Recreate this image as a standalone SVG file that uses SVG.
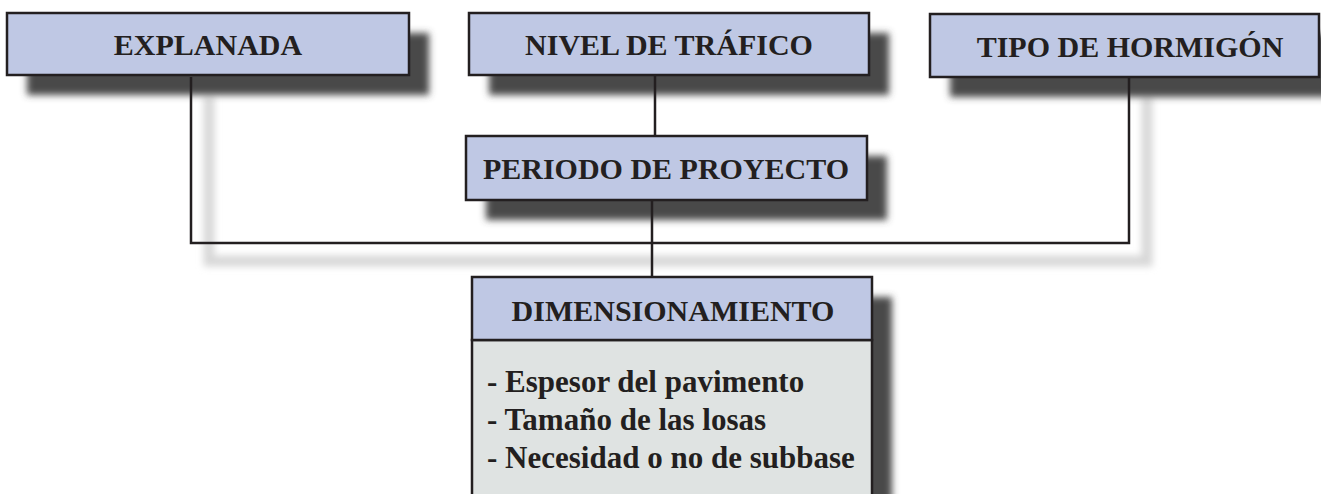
<svg xmlns="http://www.w3.org/2000/svg" width="1321" height="494" viewBox="0 0 1321 494">
<defs>
<filter id="blurDark" x="-20%" y="-50%" width="140%" height="200%"><feGaussianBlur stdDeviation="3.5"/></filter>
<filter id="blurLight" x="-20%" y="-20%" width="140%" height="140%"><feGaussianBlur stdDeviation="3.5"/></filter>
<style>
.box{fill:#bfc8e4;stroke:#231f20;stroke-width:2.5}
.body{fill:#dfe3e2;stroke:#231f20;stroke-width:2.5}
.shadow{fill:#4a4a4a;filter:url(#blurDark)}
.conn{stroke:#231f20;stroke-width:2.5;fill:none}
.cshadow{stroke:#d8d8d8;stroke-width:11;fill:none;filter:url(#blurLight)}
.t{font-family:"Liberation Serif","Times New Roman",serif;font-weight:bold;font-size:30px;fill:#231f20}
.l{font-family:"Liberation Serif","Times New Roman",serif;font-weight:bold;font-size:31px;fill:#231f20}
</style>
</defs>
<rect width="1321" height="494" fill="#ffffff"/>
<g id="connector-shadows">
<path class="cshadow" d="M209 96 V261 H1147 V96"/>
<path class="cshadow" d="M673 93 V154"/>
<path class="cshadow" d="M670 218 V295"/>
</g>
<g id="explanada">
<rect class="shadow" x="27" y="33" width="402" height="62"/>
<rect class="box" x="7" y="13" width="402" height="62"/>
<text class="t" x="208" y="55" text-anchor="middle">EXPLANADA</text>
</g>
<g id="nivel-trafico">
<rect class="shadow" x="489" y="33" width="400" height="62"/>
<rect class="box" x="469" y="13" width="400" height="62"/>
<text class="t" x="669" y="55" text-anchor="middle">NIVEL DE TRÁFICO</text>
</g>
<g id="tipo-hormigon">
<rect class="shadow" x="950" y="34" width="400" height="63"/>
<rect class="box" x="930" y="14" width="389" height="63"/>
<text class="t" x="1130" y="57" text-anchor="middle">TIPO DE HORMIGÓN</text>
</g>
<g id="periodo-proyecto">
<rect class="shadow" x="486" y="156" width="401" height="64"/>
<rect class="box" x="466" y="136" width="401" height="64"/>
<text class="t" x="666" y="179" text-anchor="middle">PERIODO DE PROYECTO</text>
</g>
<g id="dimensionamiento">
<rect class="shadow" x="492" y="297" width="400" height="220"/>
<rect class="body" x="472" y="340" width="400" height="170"/>
<rect class="box" x="472" y="277" width="400" height="63"/>
<text class="t" x="673" y="321" text-anchor="middle">DIMENSIONAMIENTO</text>
<text class="l" x="487" y="392">- Espesor del pavimento</text>
<text class="l" x="487" y="430">- Tamaño de las losas</text>
<text class="l" x="487" y="468">- Necesidad o no de subbase</text>
</g>
<g id="connectors">
<path class="conn" d="M191 77 V243 H1129 V78"/>
<path class="conn" d="M655 76 V136"/>
<path class="conn" d="M652 201 V277"/>
</g>
</svg>
